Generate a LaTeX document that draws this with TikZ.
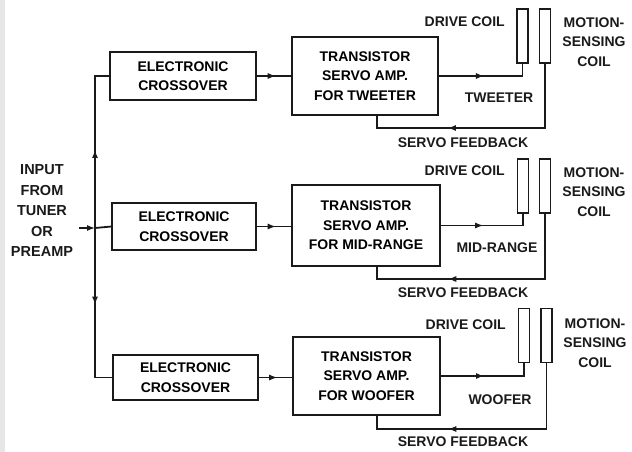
\documentclass[tikz,border=0pt]{standalone}
\usepackage{fontspec}
\setmainfont{Liberation Sans}
\usetikzlibrary{arrows.meta,positioning,decorations.markings}
\definecolor{ink}{HTML}{1A1A1A}
\definecolor{scan}{HTML}{E6E6E6}
\tikzset{
  blk/.style={draw=ink,line width=1.4pt,align=center,inner sep=0pt,font=\fontsize{14}{19.5}\selectfont\bfseries},
  coil/.style={draw=ink,line width=1.1pt,minimum width=11pt,minimum height=54pt,inner sep=0pt},
  lbl/.style={text=ink,align=center,inner sep=0pt,font=\fontsize{14}{19.5}\selectfont\bfseries},
  wire/.style={draw=ink,line width=1.1pt},
  midar/.style={wire,postaction={decorate},decoration={markings,mark=at position #1 with {\arrow{Latex[length=8pt,width=6pt]}}}},
}
\begin{document}
\begin{tikzpicture}[x=1pt,y=-1pt]
  \useasboundingbox (0,0) rectangle (632,452);
  \fill[scan] (0,0) rectangle (5,452);
  % input side
  \node[lbl,font=\fontsize{14.5}{20.5}\selectfont\bfseries] (inp) at (42,211) {INPUT\\FROM\\TUNER\\OR\\PREAMP};
  \coordinate (jn) at (95,228);
  \node[blk,minimum width=146pt,minimum height=48pt] (cx1) at (183,76) {ELECTRONIC\\CROSSOVER};
  \node[blk,minimum width=144pt,minimum height=47pt] (cx2) at (184,226.5) {ELECTRONIC\\CROSSOVER};
  \node[blk,minimum width=145pt,minimum height=45pt] (cx3) at (185.5,377.5) {ELECTRONIC\\CROSSOVER};
  \draw[wire,shorten <=6pt,-{Latex[length=8pt,width=6pt]}] (inp.east |- jn) -- (jn);
  \draw[wire,line width=1.8pt] (jn) -- (cx2.west);
  \draw[midar=0.47,line width=1.8pt] (jn) |- (cx1.west);
  \draw[midar=0.46,line width=1.8pt] (jn) |- (cx3.west);
  % servo amplifiers
  \node[blk,minimum width=146pt,minimum height=78pt] (sv1) at (365,76) {TRANSISTOR\\SERVO AMP.\\FOR TWEETER};
  \node[blk,minimum width=148pt,minimum height=81pt] (sv2) at (366,225.5) {TRANSISTOR\\SERVO AMP.\\FOR MID-RANGE};
  \node[blk,minimum width=147pt,minimum height=78pt] (sv3) at (366.5,376) {TRANSISTOR\\SERVO AMP.\\FOR WOOFER};
  \draw[midar=0.55] (cx1.east) -- (sv1.west |- cx1.east);
  \draw[midar=0.55] (cx2.east) -- (sv2.west |- cx2.east);
  \draw[midar=0.55] (cx3.east) -- (sv3.west |- cx3.east);
  % coils
  \node[coil] (dc1) at (522.5,36) {};
  \node[coil] (mc1) at (545,36) {};
  \node[coil] (dc2) at (523,186) {};
  \node[coil] (mc2) at (545,186) {};
  \node[coil] (dc3) at (524,335.5) {};
  \node[coil] (mc3) at (546.5,335.5) {};
  \draw[midar=0.47] (sv1.east) -| (dc1.south);
  \draw[midar=0.45] (sv2.east) -| (dc2.south);
  \draw[midar=0.45] (sv3.east) -| (dc3.south);
  % feedback
  \coordinate (fb1) at (377,128);
  \coordinate (fb2) at (377,279);
  \coordinate (fb3) at (377,429);
  \draw[midar=0.66] (mc1.south) |- (fb1) -- (fb1 |- sv1.south);
  \draw[midar=0.66] (mc2.south) |- (fb2) -- (fb2 |- sv2.south);
  \draw[midar=0.66] (mc3.south) |- (fb3) -- (fb3 |- sv3.south);
  % labels
  \node[lbl,anchor=east] (dl1) at (505,22) {DRIVE COIL};
  \node[lbl,anchor=east] (dl2) at (505,171) {DRIVE COIL};
  \node[lbl,anchor=east] (dl3) at (506,325) {DRIVE COIL};
  \node[lbl] (ml1) at (594,42) {MOTION-\\SENSING\\COIL};
  \node[lbl] (ml2) at (594,192) {MOTION-\\SENSING\\COIL};
  \node[lbl] (ml3) at (595,343) {MOTION-\\SENSING\\COIL};
  \node[lbl] (sp1) at (499,98) {TWEETER};
  \node[lbl] (sp2) at (497,248) {MID-RANGE};
  \node[lbl] (sp3) at (500,400) {WOOFER};
  \node[lbl] (fl1) at (463,143) {SERVO FEEDBACK};
  \node[lbl] (fl2) at (463,293) {SERVO FEEDBACK};
  \node[lbl] (fl3) at (463,442) {SERVO FEEDBACK};
\end{tikzpicture}
\end{document}
